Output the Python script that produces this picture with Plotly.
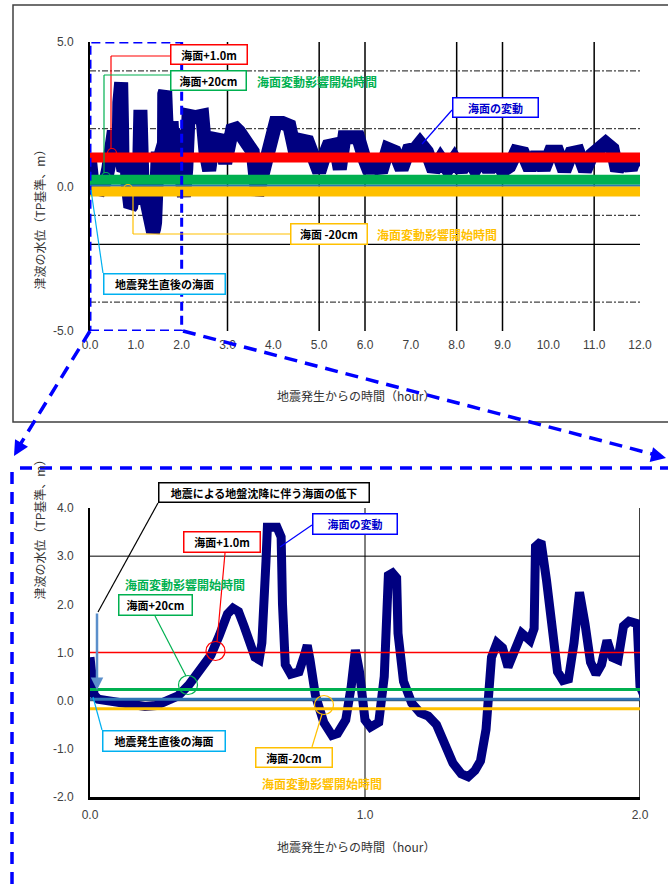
import plotly.graph_objects as go

# ---------------- data ----------------
# tsunami water level (TP, m) vs. hours after the earthquake
t_hr = [0.000, 0.008, 0.015, 0.03, 0.06, 0.10, 0.15, 0.20, 0.24, 0.28, 0.32, 0.36, 0.40, 0.44,
        0.47, 0.50, 0.52, 0.54, 0.56, 0.58, 0.60, 0.615, 0.625, 0.64, 0.645, 0.68, 0.695, 0.70,
        0.71, 0.73, 0.76, 0.78, 0.79, 0.80, 0.82, 0.85, 0.88, 0.90, 0.93, 0.95, 0.96, 0.965,
        0.98, 1.00, 1.02, 1.05, 1.07, 1.08, 1.085, 1.10, 1.115, 1.12, 1.14, 1.17, 1.20, 1.23,
        1.26, 1.29, 1.32, 1.35, 1.375, 1.40, 1.42, 1.44, 1.45, 1.46, 1.48, 1.50, 1.52, 1.55,
        1.57, 1.60, 1.615, 1.62, 1.64, 1.66, 1.68, 1.70, 1.72, 1.74, 1.76, 1.78, 1.80, 1.82,
        1.84, 1.86, 1.88, 1.90, 1.92, 1.94, 1.96, 1.99, 2.00,
        2.05, 2.10, 2.15, 2.30, 2.45, 2.52, 2.60, 2.70, 2.85, 2.95, 3.05, 3.12, 3.25, 3.40,
        3.55, 3.65, 3.75, 3.85, 3.95, 4.05, 4.20, 4.35, 4.50, 4.60, 4.75, 4.90, 5.00, 5.10,
        5.20, 5.35, 5.45, 5.55, 5.70, 5.85, 6.00, 6.10, 6.20, 6.35, 6.50, 6.65, 6.80, 6.95,
        7.10, 7.20, 7.35, 7.50, 7.65, 7.80, 7.95, 8.10, 8.25, 8.40, 8.55, 8.70, 8.85, 9.00,
        9.15, 9.30, 9.45, 9.60, 9.75, 9.90, 10.05, 10.20, 10.35, 10.50, 10.65, 10.80, 10.95,
        11.10, 11.25, 11.40, 11.50, 11.65, 11.80, 11.90, 12.00]
h_m = [0.90, 0.40, 0.12, 0.03, 0.00, -0.05, -0.08, -0.12, -0.10, -0.02, 0.10, 0.33, 0.62, 0.95,
       1.35, 1.80, 1.92, 1.85, 1.55, 1.20, 0.90, 0.85, 1.20, 2.90, 3.60, 3.60, 3.40, 2.00,
       0.75, 0.55, 0.60, 0.95, 1.15, 0.85, 0.10, -0.45, -0.72, -0.68, -0.40, 0.30, 0.95, 1.05,
       0.60, -0.40, -0.55, -0.45, 0.50, 2.00, 2.60, 2.65, 2.55, 1.40, 0.40, -0.05, -0.25, -0.32,
       -0.50, -0.90, -1.30, -1.52, -1.58, -1.45, -1.25, -0.60, 0.30, 0.90, 1.20, 1.10, 0.70, 1.15,
       1.40, 1.25, 1.50, 3.20, 3.30, 2.50, 1.50, 0.60, 0.42, 0.45, 1.20, 2.25, 1.60, 0.80,
       0.55, 0.75, 1.25, 0.90, 0.85, 1.55, 1.65, 1.60, 0.30,
       -0.35, 0.60, 2.45, 2.40, 2.45, 1.20, 0.55, 1.65, 1.60, 0.80, 1.50, 2.10, 1.90, 1.50,
       1.20, -0.30, 0.40, 0.60, 1.40, 2.20, 2.20, 2.10, 1.00, 1.60, 1.55, 0.70, 0.50, 1.00,
       1.40, 1.45, 0.60, 1.70, 1.75, 1.70, 0.90, 0.50, 0.95, 0.50, 1.30, 1.20, 0.60, 1.25,
       1.30, 1.50, 1.20, 0.55, 0.95, 0.60, 0.95, 0.55, 1.00, 0.60, 1.00, 0.55, 1.00, 0.55,
       0.70, 1.20, 1.15, 0.60, 1.15, 0.60, 1.20, 1.20, 0.55, 1.15, 1.20, 0.55, 1.10,
       1.35, 1.50, 1.30, 0.55, 1.05, 0.60, 1.05, 0.70]

# reference sea levels (TP, m)
level_names = ["海面+1.0m", "海面+20cm", "地震発生直後の海面", "海面-20cm"]
level_values = [1.0, 0.23, 0.03, -0.17]
level_colors = ["#FF0000", "#00B050", "#2E75B6", "#FFC000"]

top_xticks = list(range(0, 13))
top_yticks = [-5, 0, 5]
bot_xticks = [0, 1, 2]
bot_yticks = [-2, -1, 0, 1, 2, 3, 4]

W, H = 668, 885
def X(px):
    return px / W
def Y(py):
    return 1 - py / H

NAVY = "#000080"
BLUE = "#0000FF"
JP = "Noto Sans CJK JP"

fig = go.Figure()

# ---------------- top chart (0-12 h) ----------------
fig.add_trace(go.Scatter(x=t_hr, y=h_m, mode="lines", xaxis="x", yaxis="y",
                         line=dict(color=NAVY, width=14), hoverinfo="skip"))
top_widths = [10, 10, 2, 10]
for name, v, c, w in zip(level_names, level_values, level_colors, top_widths):
    fig.add_trace(go.Scatter(x=[0, 12], y=[v, v], mode="lines", xaxis="x", yaxis="y",
                             line=dict(color=c, width=w), name=name, hoverinfo="skip"))

# ---------------- bottom chart (0-2 h) ----------------
fig.add_trace(go.Scatter(x=t_hr, y=h_m, mode="lines", xaxis="x2", yaxis="y2",
                         line=dict(color=NAVY, width=9), hoverinfo="skip"))
bot_widths = [1.5, 3, 3, 3]
for name, v, c, w in zip(level_names, level_values, level_colors, bot_widths):
    fig.add_trace(go.Scatter(x=[0, 2], y=[v, v], mode="lines", xaxis="x2", yaxis="y2",
                             line=dict(color=c, width=w), name=name, hoverinfo="skip"))

tickfont = dict(family="Liberation Sans, Arial", size=12, color="#404040")
fig.update_layout(
    width=W, height=H, margin=dict(l=0, r=0, t=0, b=0, autoexpand=False),
    paper_bgcolor="white", plot_bgcolor="rgba(0,0,0,0)", showlegend=False,
    xaxis=dict(domain=[X(90), X(640)], range=[0, 12], anchor="y", automargin=False,
               tickvals=top_xticks, ticktext=[f"{v:.1f}" for v in top_xticks],
               showgrid=False, zeroline=False, showline=False, ticks="",
               tickfont=tickfont, ticklabelstandoff=5),
    yaxis=dict(domain=[Y(331), Y(42)], range=[-5, 5], anchor="x", automargin=False,
               tickvals=top_yticks, ticktext=[f"{v:.1f}" for v in top_yticks],
               showgrid=False, zeroline=False, showline=True, linecolor="black", linewidth=2,
               ticks="", tickfont=tickfont, ticklabelstandoff=12),
    xaxis2=dict(domain=[X(90), X(640)], range=[0, 2], anchor="y2", automargin=False,
                tickvals=bot_xticks, ticktext=[f"{v:.1f}" for v in bot_xticks],
                showgrid=False, zeroline=False, showline=True, linecolor="black", linewidth=2.5,
                ticks="", tickfont=tickfont, ticklabelstandoff=5),
    yaxis2=dict(domain=[Y(797), Y(508)], range=[-2, 4], anchor="x2", automargin=False,
                tickvals=bot_yticks, ticktext=[f"{v:.1f}" for v in bot_yticks],
                showgrid=False, zeroline=False, showline=True, linecolor="black", linewidth=2,
                ticks="", tickfont=tickfont, ticklabelstandoff=12),
)

shapes = []
# top gridlines
for v in [4, 2, -1, -4]:
    shapes.append(dict(type="line", xref="x", yref="y", x0=0, x1=12, y0=v, y1=v, layer="below",
                       line=dict(color="#444444", width=1.2, dash="6px,2px,2px,2px")))
shapes.append(dict(type="line", xref="x", yref="y", x0=0, x1=12, y0=-2, y1=-2, layer="below",
                   line=dict(color="black", width=1.2)))
for v in [3, 5, 6, 8, 9, 11]:
    shapes.append(dict(type="line", xref="x", yref="y", x0=v, x1=v, y0=-5, y1=5, layer="below",
                       line=dict(color="black", width=1.5)))
# bottom gridlines
shapes.append(dict(type="line", xref="x2", yref="y2", x0=0, x1=2, y0=3, y1=3, layer="below",
                   line=dict(color="black", width=1)))
shapes.append(dict(type="line", xref="x2", yref="y2", x0=0, x1=2, y0=0, y1=0, layer="below",
                   line=dict(color="black", width=1)))
shapes.append(dict(type="line", xref="x2", yref="y2", x0=1, x1=1, y0=-2, y1=4, layer="below",
                   line=dict(color="black", width=1)))
shapes.append(dict(type="line", xref="x2", yref="y2", x0=2, x1=2, y0=-2, y1=4, layer="below",
                   line=dict(color="black", width=1.5)))

# outer frame of top chart
shapes.append(dict(type="rect", xref="paper", yref="paper", x0=X(13), x1=X(676), y0=Y(422), y1=Y(5),
                   line=dict(color="#404040", width=1.5)))
# zoom rectangle and connectors
shapes.append(dict(type="rect", xref="x", yref="y", x0=0, x1=2, y0=-5, y1=5,
                   line=dict(color=BLUE, width=3, dash="9px,5px")))
shapes.append(dict(type="line", xref="paper", yref="paper", x0=X(90), y0=Y(331), x1=X(18), y1=Y(448),
                   line=dict(color=BLUE, width=3.5, dash="13px,8px")))
shapes.append(dict(type="line", xref="paper", yref="paper", x0=X(183), y0=Y(331), x1=X(656), y1=Y(455),
                   line=dict(color=BLUE, width=3.5, dash="13px,8px")))
shapes.append(dict(type="line", xref="paper", yref="paper", x0=X(20), y0=Y(468), x1=X(670), y1=Y(468),
                   line=dict(color=BLUE, width=3.5, dash="12px,8px")))
shapes.append(dict(type="line", xref="paper", yref="paper", x0=X(12), y0=Y(472), x1=X(12), y1=Y(890),
                   line=dict(color=BLUE, width=3.5, dash="12px,8px")))

def seg(x0, y0, x1, y1, color, width=1.2):
    shapes.append(dict(type="line", xref="paper", yref="paper", x0=X(x0), y0=Y(y0), x1=X(x1), y1=Y(y1),
                       line=dict(color=color, width=width)))

def circ(cx, cy, r, color, width=1.2):
    shapes.append(dict(type="circle", xref="paper", yref="paper", x0=X(cx - r), x1=X(cx + r),
                       y0=Y(cy + r), y1=Y(cy - r), line=dict(color=color, width=width)))

RED, GREEN, YEL, CYAN = "#FF0000", "#00B050", "#FFC000", "#00B0F0"
# top leaders
seg(170, 56, 111, 56, RED); seg(111, 56, 111, 149, RED); circ(112, 153, 4.5, RED)
seg(170, 75, 104, 75, GREEN); seg(104, 75, 104, 173, GREEN); circ(106, 177, 4.5, GREEN)
seg(290, 234, 133, 234, YEL); seg(133, 234, 133, 193, YEL); circ(128, 189, 4.5, YEL)
seg(103, 273, 91, 190, CYAN)
seg(452, 110, 422, 144, BLUE)
# bottom leaders
seg(158, 503, 98, 612, "black")
seg(225, 553, 217, 642, RED); circ(215.5, 651, 9.5, RED)
seg(155, 616, 186, 676, GREEN); circ(188, 685, 9.5, GREEN)
seg(102, 730, 93, 697, CYAN)
seg(312, 747, 322, 714, YEL); circ(324, 705, 9.5, YEL)
seg(312, 525, 280, 547, BLUE)

fig.update_layout(shapes=shapes)

ann = []
def box(text, x0, y0, x1, y1, color, tcolor="black", size=11):
    ann.append(dict(text=text, xref="paper", yref="paper", x=X(x0), y=Y(y0), xanchor="left", yanchor="top",
                    width=x1 - x0 - 5, height=y1 - y0 - 5, borderpad=1, borderwidth=1.5,
                    bordercolor=color, bgcolor="white", showarrow=False, align="center", valign="middle",
                    font=dict(family=JP, size=size, color=tcolor, weight="bold")))

def label(text, cx, cy, color, size=12):
    ann.append(dict(text=text, xref="paper", yref="paper", x=X(cx), y=Y(cy), xanchor="center", yanchor="middle",
                    showarrow=False, font=dict(family=JP, size=size, color=color, weight="bold")))

# top boxes
box("海面+1.0m", 170, 44, 248, 65, RED)
box("海面+20cm", 170, 70, 247, 91, GREEN)
label("海面変動影響開始時間", 317, 82, GREEN)
box("海面の変動", 452, 97, 539, 118, BLUE, tcolor="#0000CC")
box("海面 -20cm", 290, 223, 368, 245, YEL)
label("海面変動影響開始時間", 437, 234, YEL)
box("地震発生直後の海面", 103, 273, 226, 295, CYAN)
# bottom boxes
box("地震による地盤沈降に伴う海面の低下", 158, 482, 370, 503, "black")
box("海面の変動", 312, 513, 398, 535, BLUE, tcolor="#0000CC")
box("海面+1.0m", 183, 531, 261, 553, RED)
label("海面変動影響開始時間", 185, 584, GREEN)
box("海面+20cm", 118, 594, 193, 616, GREEN)
box("地震発生直後の海面", 102, 730, 226, 752, CYAN)
box("海面-20cm", 255, 747, 333, 768, YEL)
label("海面変動影響開始時間", 322, 783, YEL)

# axis titles
tf = dict(family=JP, size=12, color="#333333")
ann.append(dict(text="津波の水位（TP基準、m）", xref="paper", yref="paper", x=X(28), y=Y(142),
                textangle=-90, showarrow=False, font=tf))
ann.append(dict(text="地震発生からの時間（hour）", xref="paper", yref="paper", x=X(356), y=Y(395),
                showarrow=False, font=tf))
ann.append(dict(text="津波の水位（TP基準、m）", xref="paper", yref="paper", x=X(28), y=Y(602),
                textangle=-90, showarrow=False, font=tf))
ann.append(dict(text="地震発生からの時間（hour）", xref="paper", yref="paper", x=X(356), y=Y(857),
                showarrow=False, font=tf))

# arrowheads
ann.append(dict(text="", xref="paper", yref="paper", x=X(14), y=Y(456), ax=7, ay=-12, showarrow=True,
                arrowhead=2, arrowsize=1, arrowwidth=3, arrowcolor=BLUE, standoff=0))
ann.append(dict(text="", xref="paper", yref="paper", x=X(666), y=Y(458), ax=-13, ay=-3, showarrow=True,
                arrowhead=2, arrowsize=1, arrowwidth=3, arrowcolor=BLUE, standoff=0))
# subsidence arrow in bottom chart
ann.append(dict(text="", xref="paper", yref="paper", x=X(97), y=Y(690), ax=0, ay=-78, showarrow=True,
                arrowhead=2, arrowsize=1, arrowwidth=2.5, arrowcolor="#5B8FCB", standoff=0))

fig.update_layout(annotations=ann)
fig.write_html("out.html", config={"displayModeBar": False},
               post_script="document.body.style.margin='0';")
